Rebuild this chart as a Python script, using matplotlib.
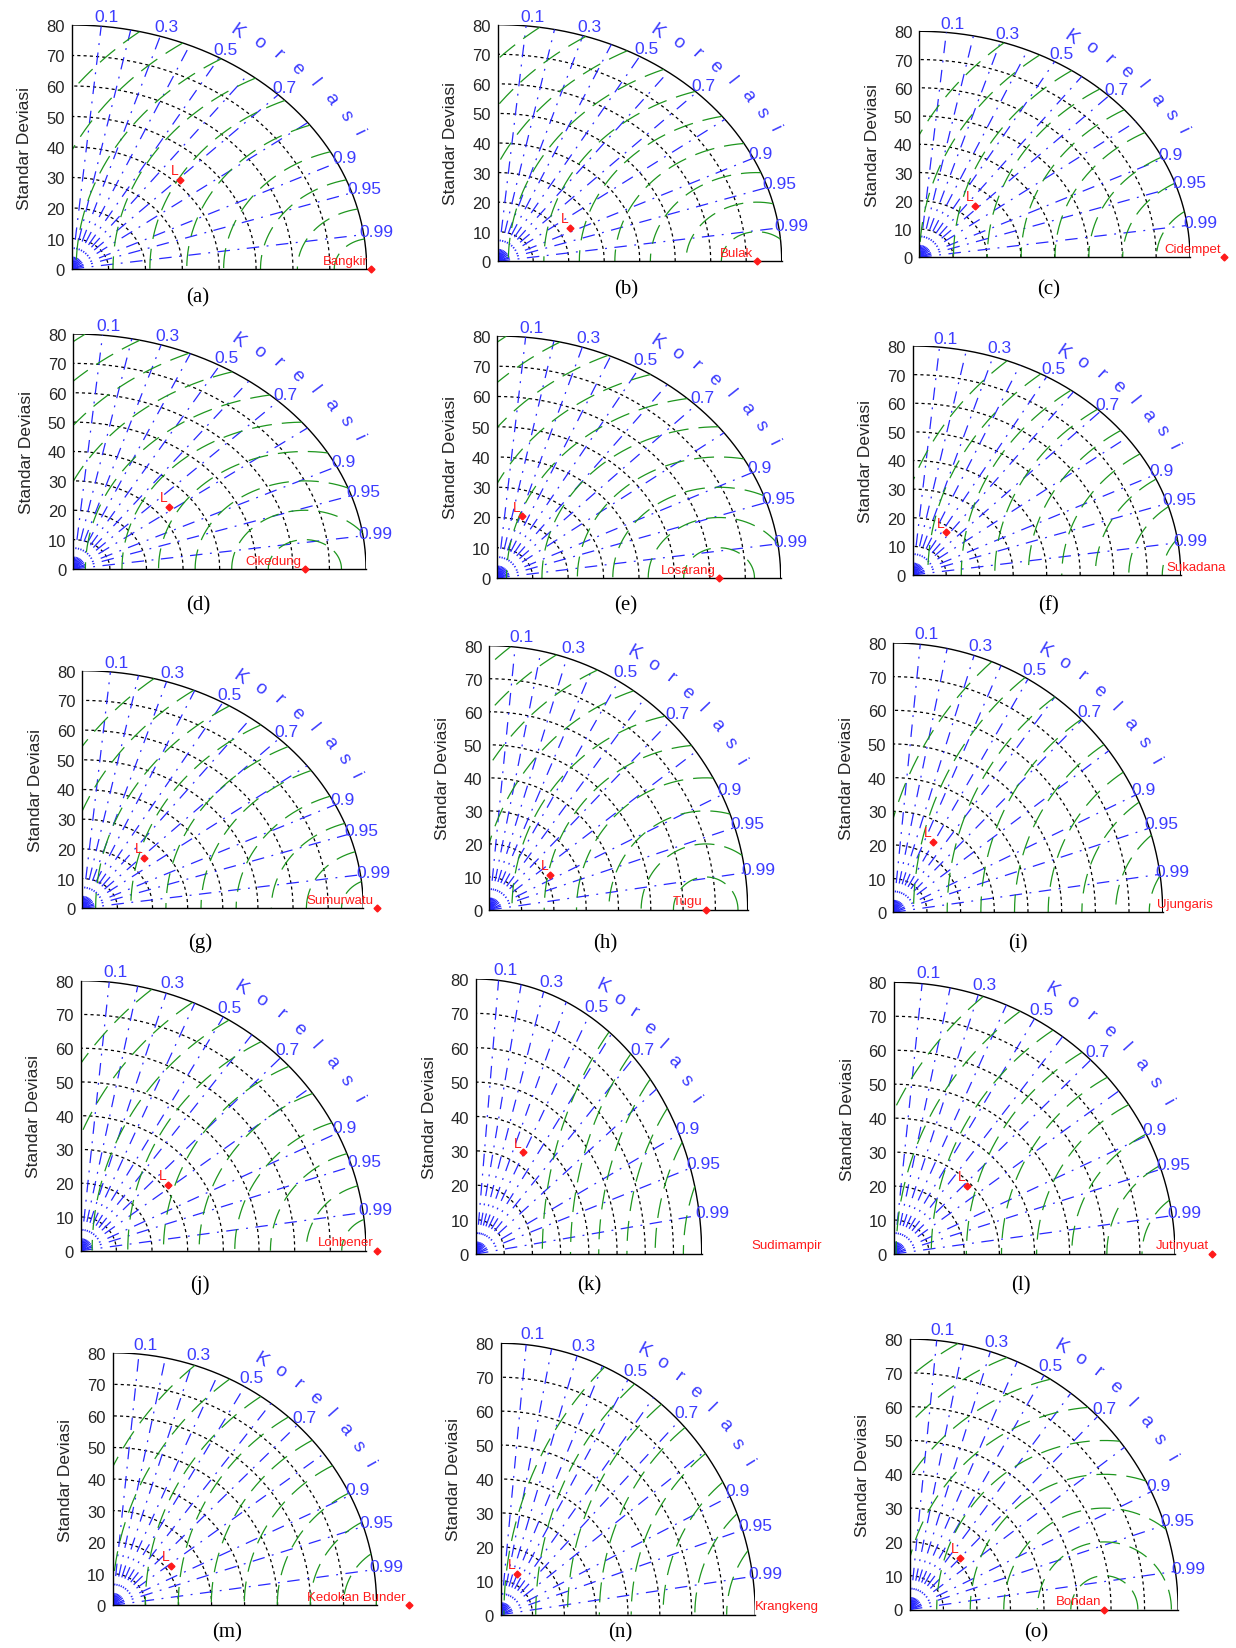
import numpy as np
import matplotlib
matplotlib.use('Agg')
import matplotlib.pyplot as plt

# ---------------- data ----------------
panel_tags = ['(a)', '(b)', '(c)', '(d)', '(e)', '(f)', '(g)', '(h)', '(i)',
              '(j)', '(k)', '(l)', '(m)', '(n)', '(o)']
stations = ['Bangkir', 'Bulak', 'Cidempet', 'Cikedung', 'Losarang', 'Sukadana',
            'Sumurwatu', 'Tugu', 'Ujungaris', 'Lohbener', 'Sudimampir', 'Jutinyuat',
            'Kedokan Bunder', 'Krangkeng', 'Bondan']
ref_std = [81.2, 73.0, 90.1, 63.3, 62.6, 94.5, 83.8, 67.0, 96.0, 83.2, 123.5, 90.6,
           89.9, 101.0, 58.0]
model_std = [41.4, 23.3, 24.6, 33.6, 21.5, 17.9, 24.4, 21.6, 24.0, 31.4, 33.9, 28.9,
             21.7, 13.1, 21.4]
model_corr = [0.710, 0.876, 0.670, 0.780, 0.320, 0.553, 0.721, 0.871, 0.496, 0.784,
              0.489, 0.717, 0.821, 0.382, 0.705]
ref_marker_shown = [True, True, True, True, True, False, True, True, False, True,
                    False, True, True, False, True]
model_label = 'L'
std_ticks = [0, 10, 20, 30, 40, 50, 60, 70, 80]
std_arcs = [10, 20, 30, 40, 50, 60, 70]
corr_lines = [0.1, 0.2, 0.3, 0.4, 0.5, 0.6, 0.7, 0.8, 0.9, 0.95, 0.99]
corr_labels = [0.1, 0.3, 0.5, 0.7, 0.9, 0.95, 0.99]
rms_radii = [10, 20, 30, 40, 50, 60, 70, 80, 90, 100]
corr_title = 'Korelasi'
y_title = 'Standar Deviasi'

# ---------------- layout (pixels: origin x, origin y, width, height) ----------------
W, H = 1236, 1649
panel_px = [
    (71.7, 270.0, 295.0, 244.0), (497.7, 262.3, 284.0, 236.6), (919.3, 258.3, 270.7, 226.0),
    (73.3, 570.0, 292.7, 235.0), (497.3, 579.0, 283.4, 242.0), (912.7, 576.0, 268.0, 229.0),
    (82.3, 909.3, 281.0, 237.6), (489.3, 911.0, 258.4, 264.3), (893.3, 913.3, 269.4, 269.3),
    (80.7, 1251.7, 285.3, 270.0), (476.0, 1255.0, 225.7, 275.0), (894.0, 1255.0, 281.0, 271.7),
    (112.6, 1606.3, 264.0, 252.5), (500.7, 1615.7, 254.6, 271.4), (909.9, 1610.5, 268.2, 270.4),
]
caption_px = [
    (197.8, 297.7), (625.9, 290.3), (1048.8, 290.3),
    (197.8, 605.9), (625.9, 605.9), (1048.8, 605.9),
    (199.9, 943.6), (604.8, 943.6), (1018.2, 943.6),
    (199.9, 1285.4), (589.1, 1285.4), (1020.4, 1285.4),
    (227.2, 1632.5), (620.6, 1632.5), (1036.1, 1632.5),
]

RMAX = 80.0
GREEN = '#1e961e'
BLUE = '#2828ff'
LBLUE = '#3c3cff'
RED = '#ff1a1a'

plt.rcParams['font.family'] = ['Liberation Sans', 'DejaVu Sans']

fig = plt.figure(figsize=(W / 100, H / 100), dpi=100)
fig.patch.set_facecolor('white')

t = np.linspace(0, np.pi / 2, 400)

for i in range(15):
    ox, oy, w, h = panel_px[i]
    ax = fig.add_axes([ox / W, (H - oy) / H, w / W, h / H])
    ax.set_xlim(0, RMAX)
    ax.set_ylim(0, RMAX)
    ax.patch.set_alpha(0)
    for s in ['top', 'right']:
        ax.spines[s].set_visible(False)
    for s in ['left', 'bottom']:
        ax.spines[s].set_linewidth(1.0)
        ax.spines[s].set_color('black')
    ax.set_xticks([])
    ax.set_yticks(std_ticks)
    ax.set_yticklabels([str(v) for v in std_ticks])
    ax.tick_params(axis='y', length=0, pad=5, labelsize=12, labelcolor='#262626')
    ax.set_ylabel(y_title, fontsize=12.5, labelpad=10, color='#262626')

    # outer arc
    ax.plot(RMAX * np.cos(t), RMAX * np.sin(t), color='black', lw=1.0)
    # std arcs
    for r in std_arcs:
        ax.plot(r * np.cos(t), r * np.sin(t), color='black', lw=0.9,
                linestyle=(0, (2.5, 2.5)))
    # correlation radial lines
    for c in corr_lines:
        th = np.arccos(c)
        ax.plot([0, RMAX * np.cos(th)], [0, RMAX * np.sin(th)], color=BLUE, lw=0.9,
                linestyle=(0, (10, 6, 1.5, 6)))
    # correlation labels
    for c in corr_labels:
        th = np.arccos(c)
        ax.text(80.5 * np.cos(th) - 1.8, 80.5 * np.sin(th) + 0.5 + 2.2 * np.sin(th),
                ('%g' % c), color=LBLUE, fontsize=12.5, ha='left', va='center')
    # Korelasi text along the arc
    angs = np.linspace(60, 30, len(corr_title))
    for ch, a in zip(corr_title, angs):
        ar = np.deg2rad(a)
        phi = np.degrees(np.arctan2(np.sin(ar) * h, np.cos(ar) * w))
        ax.text(90 * np.cos(ar), 90 * np.sin(ar), ch, color=LBLUE, fontsize=13.5,
                ha='center', va='center', rotation=phi - 90, clip_on=False)
    # RMS difference arcs centred on the reference point
    R = ref_std[i]
    phi = np.linspace(0, np.pi, 3000)
    for rr in rms_radii:
        x = R + rr * np.cos(phi)
        y = rr * np.sin(phi)
        ok = (x >= 0) & (y >= 0) & (x * x + y * y <= RMAX * RMAX)
        if not ok.any():
            continue
        xx = np.where(ok, x, np.nan)
        yy = np.where(ok, y, np.nan)
        ax.plot(xx, yy, color=GREEN, lw=0.9, linestyle=(0, (16, 8)))
    # reference point
    if ref_marker_shown[i]:
        ax.plot([R], [0], marker='D', color=RED, ms=3.5, clip_on=False, zorder=5)
    ax.text(R - 1.0, 0.8, stations[i], color=RED, fontsize=9.5, ha='right',
            va='bottom', clip_on=False, zorder=5)
    # model point
    mx = model_std[i] * model_corr[i]
    my = model_std[i] * np.sqrt(1 - model_corr[i] ** 2)
    ax.plot([mx], [my], marker='D', color=RED, ms=3.5, zorder=6)
    ax.annotate(model_label, (mx, my), xytext=(-1, 2), textcoords='offset points',
                color=RED, fontsize=10, ha='right', va='bottom', zorder=6)

    cx, cy = caption_px[i]
    fig.text(cx / W, 1 - cy / H, panel_tags[i], ha='center', va='center',
             fontsize=15, family=['Liberation Serif', 'DejaVu Serif'])

fig.savefig('out.png', dpi=100, facecolor='white')
